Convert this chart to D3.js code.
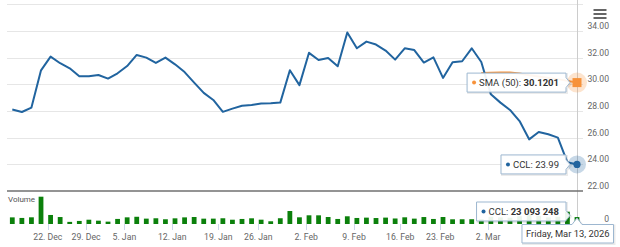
<!DOCTYPE html>
<html><head><meta charset="utf-8">
<script src="https://cdn.jsdelivr.net/npm/d3@7"></script>
<style>body{margin:0;background:#fff;} svg{display:block;font-family:Roboto, "Noto Sans", sans-serif;}</style>
</head><body>
<svg id="c" width="620" height="247"></svg>
<script>
// ---------------- data ----------------
const dates = [
 "2025-12-16","2025-12-17","2025-12-18","2025-12-19","2025-12-22","2025-12-23","2025-12-24","2025-12-26","2025-12-29","2025-12-30","2025-12-31",
 "2026-01-02","2026-01-05","2026-01-06","2026-01-07","2026-01-08","2026-01-09","2026-01-12","2026-01-13","2026-01-14","2026-01-15","2026-01-16",
 "2026-01-20","2026-01-21","2026-01-22","2026-01-23","2026-01-26","2026-01-27","2026-01-28","2026-01-29","2026-01-30",
 "2026-02-02","2026-02-03","2026-02-04","2026-02-05","2026-02-06","2026-02-09","2026-02-10","2026-02-11","2026-02-12","2026-02-13",
 "2026-02-17","2026-02-18","2026-02-19","2026-02-20","2026-02-23","2026-02-24","2026-02-25","2026-02-26","2026-02-27",
 "2026-03-02","2026-03-03","2026-03-04","2026-03-05","2026-03-06","2026-03-09","2026-03-10","2026-03-11","2026-03-12","2026-03-13"];
const prices = [
 28.10,27.92,28.25,31.04,32.07,31.57,31.19,30.59,30.59,30.69,30.42,
 30.82,31.36,32.19,31.99,31.59,31.99,31.49,30.91,30.12,29.35,28.82,
 27.93,28.17,28.38,28.45,28.56,28.58,28.62,31.04,29.93,
 32.35,31.81,31.96,31.34,33.87,32.69,33.19,32.97,32.52,31.84,
 32.69,32.56,31.62,32.01,30.47,31.64,31.72,32.69,31.66,
 29.24,28.62,28.07,27.24,25.87,26.42,26.25,26.00,24.15,23.99];
const volumes = [
 22100000,20200000,22300000,91000000,30100000,23200000,7100000,10200000,14300000,11100000,7900000,
 16900000,22200000,24100000,17900000,19100000,15800000,18900000,22100000,23300000,17800000,17900000,
 19100000,14300000,16800000,19000000,14400000,9100000,19200000,43300000,22300000,
 29000000,28900000,23300000,16800000,25700000,20100000,21200000,19900000,21300000,18400000,
 22300000,17900000,23200000,16800000,23300000,15700000,15800000,15900000,16000000,
 24000000,22000000,21000000,26000000,33000000,27000000,22000000,24000000,41000000,23093248];
const smaStart = "2026-02-27";
const smaValues = [30.83,30.86,30.87,30.87,30.80,30.67,30.57,30.47,30.38,30.25,30.1201];
const tickDates = ["2025-12-22","2025-12-29","2026-01-05","2026-01-12","2026-01-19","2026-01-26","2026-02-02","2026-02-09","2026-02-16","2026-02-23","2026-03-02","2026-03-09"];
const tickLabels = ["22. Dec","29. Dec","5. Jan","12. Jan","19. Jan","26. Jan","2. Feb","9. Feb","16. Feb","23. Feb","2. Mar","9. Mar"];
const priceTicks = [22,24,26,28,30,32,34,36];
const volumeTicks = [0];
const seriesName = "CCL";
const smaName = "SMA (50)";

// ---------------- layout ----------------
const svg = d3.select("#c");
const plotL = 7, plotR = 583;
const lineColor = "#21649f", smaColor = "#f7923a", volColor = "#0b800b";
const borderColor = "#9db7d0";

const ts = dates.map(d => new Date(d + "T21:00:00Z").getTime());
// ordinal position (Highcharts-stock style): fractional index between trading days
function ordinal(t) {
  for (let i = 0; i < ts.length - 1; i++) {
    if (t >= ts[i] && t <= ts[i+1]) return i + (t - ts[i]) / (ts[i+1] - ts[i]);
  }
  return t < ts[0] ? 0 : ts.length - 1;
}
const x = d3.scaleLinear().domain([0, dates.length - 1]).range([12.3, 577]);
const yP = d3.scaleLinear().domain([22, 36]).range([191, 4.1]);
const yV = d3.scaleLinear().domain([0, 110000000]).range([224, 191]);
const lastI = dates.length - 1;
const mx = x(lastI);

// gridlines price pane
svg.append("g").selectAll("line").data(priceTicks.slice(1)).join("line")
  .attr("x1", plotL).attr("x2", plotR)
  .attr("y1", d => Math.round(yP(d)) + 0.5).attr("y2", d => Math.round(yP(d)) + 0.5)
  .attr("stroke", "#e6e6e6").attr("stroke-width", 1);

// price axis labels (right)
svg.append("g").selectAll("text").data(priceTicks.filter(d => yP(d) > 12)).join("text")
  .attr("x", 609).attr("y", d => yP(d) - 2)
  .attr("text-anchor", "end").attr("font-size", 8.6).attr("fill", "#666")
  .text(d => d3.format(".2f")(d));

// volume axis label
svg.append("g").selectAll("text").data(volumeTicks).join("text")
  .attr("x", 609).attr("y", d => yV(d) - 2)
  .attr("text-anchor", "end").attr("font-size", 8.6).attr("fill", "#666")
  .text(d => d3.format(",")(d));

// crosshair date label geometry (computed first so hidden tick labels can be skipped)
const dateText = d3.utcFormat("%A, %b %-d, %Y")(new Date(dates[lastI] + "T12:00:00Z"));
const tmp = svg.append("text").attr("font-size", 9.4).text(dateText);
const dateW = tmp.node().getComputedTextLength() + 8;
tmp.remove();
const dateLeft = Math.min(613.5 - dateW, mx - dateW / 2);

// x ticks
const tickPos = tickDates.map(d => x(ordinal(new Date(d + "T00:00:00Z").getTime())));
svg.append("g").selectAll("line").data(tickPos).join("line")
  .attr("x1", d => Math.round(d) + 0.5).attr("x2", d => Math.round(d) + 0.5)
  .attr("y1", 224).attr("y2", 230).attr("stroke", "#ccd6eb");
const tickG = svg.append("g");
tickLabels.forEach((lab, i) => {
  const t = tickG.append("text")
    .attr("x", tickPos[i]).attr("y", 239.5)
    .attr("text-anchor", "middle").attr("font-size", 8.7).attr("fill", "#666")
    .text(lab);
  const w = t.node().getComputedTextLength();
  if (tickPos[i] + w / 2 > dateLeft - 2) t.remove();   // covered by the crosshair label
});

// crosshair
svg.append("line").attr("x1", Math.round(mx) + 0.5).attr("x2", Math.round(mx) + 0.5)
  .attr("y1", 0).attr("y2", 224).attr("stroke", "#cccccc").attr("stroke-width", 1);

// pane separator
svg.append("line").attr("x1", plotL).attr("x2", plotR).attr("y1", yP(22)).attr("y2", yP(22))
  .attr("stroke", "#707070").attr("stroke-width", 1.6);

// volume bars
const step = x(1) - x(0), bw = step * 0.5;
svg.append("g").selectAll("rect").data(volumes).join("rect")
  .attr("x", (d, i) => x(i) - bw / 2).attr("width", bw)
  .attr("y", d => yV(d)).attr("height", d => yV(0) - yV(d))
  .attr("fill", volColor);

svg.append("text").attr("x", 8).attr("y", 201.5).attr("font-size", 8).attr("fill", "#555").text("Volume");

// SMA line
const smaI0 = dates.indexOf(smaStart);
svg.append("path").datum(smaValues)
  .attr("fill", "none").attr("stroke", smaColor).attr("stroke-width", 2)
  .attr("d", d3.line().x((d, i) => x(smaI0 + i)).y(d => yP(d)));

// price line
svg.append("path").datum(prices)
  .attr("fill", "none").attr("stroke", lineColor).attr("stroke-width", 2)
  .attr("stroke-linejoin", "round")
  .attr("d", d3.line().x((d, i) => x(i)).y(d => yP(d)));

// hover markers
svg.append("circle").attr("cx", mx).attr("cy", yP(prices[lastI])).attr("r", 9).attr("fill", lineColor).attr("opacity", 0.25);
svg.append("circle").attr("cx", mx).attr("cy", yP(prices[lastI])).attr("r", 3.6).attr("fill", lineColor);
const smaLast = smaValues[smaValues.length - 1];
svg.append("circle").attr("cx", mx).attr("cy", yP(smaLast)).attr("r", 10).attr("fill", smaColor).attr("opacity", 0.25);
svg.append("rect").attr("x", mx - 4.5).attr("y", yP(smaLast) - 4.5).attr("width", 9).attr("height", 9).attr("fill", smaColor);

// tooltips
function tooltip(label, value, bold, ax, ay, dotColor, arrowDy) {
  const g = svg.append("g");
  const h = 19, fs = 9.5;
  const t = g.append("text").attr("font-size", fs).attr("fill", "#333");
  t.append("tspan").text(label + ": ");
  t.append("tspan").attr("font-weight", bold ? "bold" : "normal").text(value);
  const tw = t.node().getComputedTextLength();
  const w = tw + 19;
  const right = ax - 11, left = right - w;
  const top = ay - h / 2 + (arrowDy ? -arrowDy : 0), bottom = top + h;
  const aY = ay;
  const p = `M${left},${top}H${right}V${aY - 5}L${right + 4},${aY}L${right},${aY + 5}V${bottom}H${left}Z`;
  g.insert("path", "text").attr("d", p).attr("transform", "translate(1,1)")
    .attr("fill", "none").attr("stroke", "#000").attr("stroke-opacity", 0.08).attr("stroke-width", 2);
  g.insert("path", "text").attr("d", p).attr("fill", "rgba(255,255,255,0.92)")
    .attr("stroke", borderColor).attr("stroke-width", 1);
  g.insert("circle", "text").attr("cx", left + 7).attr("cy", (top + bottom) / 2).attr("r", 2).attr("fill", dotColor);
  t.attr("x", left + 12).attr("y", (top + bottom) / 2 + 3.4);
}
tooltip(smaName, d3.format(".4f")(smaLast), true, mx, yP(smaLast), smaColor, 0);
tooltip(seriesName, d3.format(".2f")(prices[lastI]), false, mx, yP(prices[lastI]), lineColor, 0);
tooltip(seriesName, d3.format(",")(volumes[lastI]).replace(/,/g, " "), true, mx, 215.5, lineColor, 4);

// x crosshair date label
(function () {
  const g = svg.append("g");
  const h = 18.5, top = 224.5;
  const left = dateLeft, right = left + dateW, bottom = top + h;
  const p = `M${left},${top}H${mx - 5}L${mx},${top - 6.5}L${mx + 5},${top}H${right}V${bottom}H${left}Z`;
  g.append("path").attr("d", p).attr("transform", "translate(1,1)")
    .attr("fill", "none").attr("stroke", "#000").attr("stroke-opacity", 0.08).attr("stroke-width", 2);
  g.append("path").attr("d", p).attr("fill", "#fff").attr("stroke", borderColor);
  g.append("text").attr("font-size", 9.4).attr("fill", "#333").attr("text-anchor", "middle")
    .attr("x", left + dateW / 2).attr("y", top + h / 2 + 3.3).text(dateText);
})();

// hamburger menu
svg.append("g").selectAll("line").data([10, 14, 18]).join("line")
  .attr("x1", 593.5).attr("x2", 606.5).attr("y1", d => d).attr("y2", d => d)
  .attr("stroke", "#666").attr("stroke-width", 2);
</script>
</body></html>
